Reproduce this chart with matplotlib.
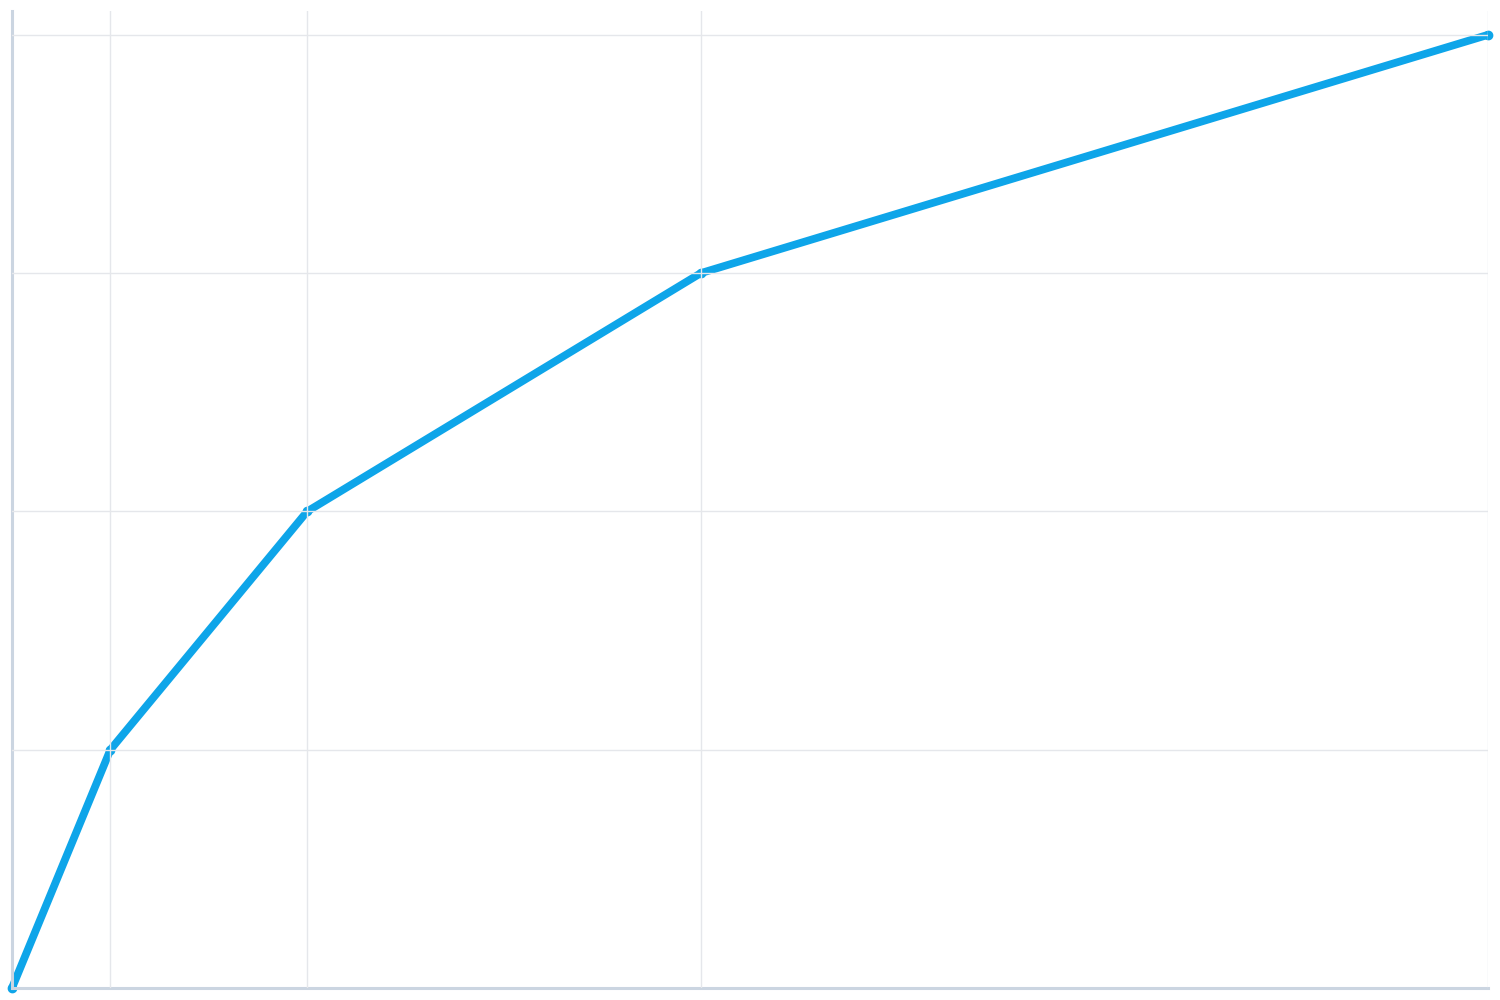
import matplotlib
matplotlib.use("Agg")
import matplotlib.pyplot as plt

# data points
x_vals = [0, 1, 3, 7, 15]
y_vals = [0, 1, 2, 3, 4]

fig = plt.figure(figsize=(15, 10), dpi=100)
ax = fig.add_axes([0.008, 0.012, 0.984, 0.977])

ax.plot(x_vals, y_vals, color="#0ea5e9", linewidth=5.6, marker="o", markersize=6,
        solid_capstyle="butt", clip_on=False, zorder=2)

ax.set_xlim(0, 15)
ax.set_ylim(0, 4.1)
ax.set_xticks(x_vals[1:])
ax.set_yticks(y_vals[1:])
ax.tick_params(length=0, labelbottom=False, labelleft=False)
ax.grid(True, color="#e5e7eb", linewidth=1.0, zorder=3)
ax.set_axisbelow(False)

for side in ["top", "right"]:
    ax.spines[side].set_visible(False)
for side in ["left", "bottom"]:
    ax.spines[side].set_color("#cbd5e1")
    ax.spines[side].set_linewidth(2.2)

fig.savefig("out.png", dpi=100)
